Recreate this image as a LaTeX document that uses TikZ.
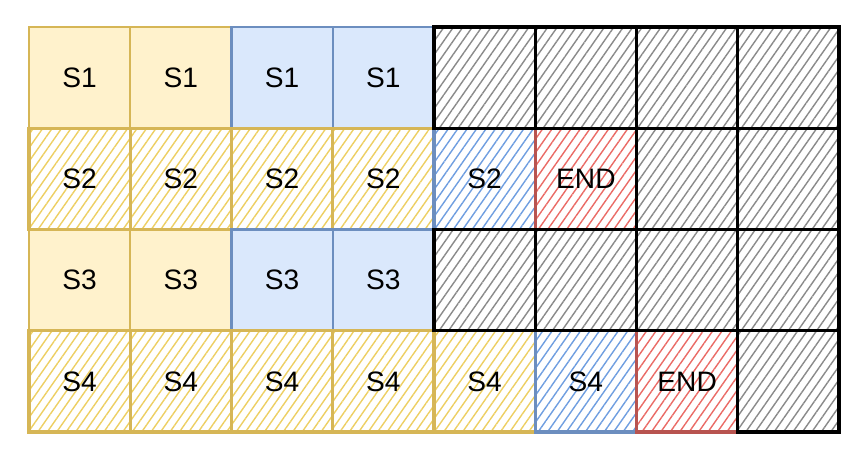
\documentclass[tikz,border=0pt]{standalone}
\usepackage{fontspec}
\setmainfont{Liberation Sans}
\usepackage{xcolor}
\usepackage{tikz}
\usetikzlibrary{positioning, patterns.meta}
\definecolor{ylwfill}{HTML}{FFF2CC}
\definecolor{ylwdraw}{HTML}{D6B656}
\definecolor{ylwhatch}{HTML}{EDCF63}
\definecolor{blufill}{HTML}{DAE8FC}
\definecolor{bludraw}{HTML}{6C8EBF}
\definecolor{bluhatch}{HTML}{6F9EE0}
\definecolor{redhatch}{HTML}{EA6B66}
\definecolor{reddraw}{HTML}{B85450}
\definecolor{blkhatch}{HTML}{8A8A8A}

\begin{document}
\begin{tikzpicture}[
  node distance=0cm and 0cm,
  cellbox/.style={rectangle, minimum width=1.0125cm, minimum height=1.0125cm,
                  inner sep=0pt, outer sep=0pt, font=\fontsize{8}{10}\selectfont},
  hatch/.style={pattern={Lines[angle=55,distance=2.2pt,line width=0.4pt]},
                pattern color=#1},
  yel/.style={cellbox, fill=ylwfill, draw=ylwdraw, line width=0.6pt},
  blu/.style={cellbox, fill=blufill, draw=bludraw, line width=0.6pt},
  yelh/.style={cellbox, hatch=ylwhatch, draw=ylwdraw, line width=0.9pt},
  bluh/.style={cellbox, hatch=bluhatch, draw=bludraw, line width=0.9pt},
  redh/.style={cellbox, hatch=redhatch, draw=reddraw, line width=0.9pt},
  blk/.style={cellbox, hatch=blkhatch, draw=black, line width=0.95pt},
]
  \useasboundingbox (0,0) rectangle (8.66,4.59);

  % row 1
  \node[yel] (a1) at (0.7963,3.8137) {S1};
  \node[yel, right=of a1] (a2) {S1};
  \node[blu, right=of a2] (a3) {S1};
  \node[blu, right=of a3] (a4) {S1};

  % row 2
  \node[yelh, below=of a1] (b1) {S2};
  \node[yelh, right=of b1] (b2) {S2};
  \node[yelh, right=of b2] (b3) {S2};
  \node[yelh, right=of b3] (b4) {S2};
  \node[bluh, right=of b4] (b5) {S2};
  \node[redh, right=of b5] (b6) {END};

  % row 3
  \node[yel, below=of b1] (c1) {S3};
  \node[yel, right=of c1] (c2) {S3};
  \node[blu, right=of c2] (c3) {S3};
  \node[blu, right=of c3] (c4) {S3};

  % row 4
  \node[yelh, below=of c1] (d1) {S4};
  \node[yelh, right=of d1] (d2) {S4};
  \node[yelh, right=of d2] (d3) {S4};
  \node[yelh, right=of d3] (d4) {S4};
  \node[yelh, right=of d4] (d5) {S4};
  \node[bluh, right=of d5] (d6) {S4};
  \node[redh, right=of d6] (d7) {END};

  % empty cells
  \node[blk, right=of a4] (a5) {};
  \node[blk, right=of a5] (a6) {};
  \node[blk, right=of a6] (a7) {};
  \node[blk, right=of a7] (a8) {};
  \node[blk, right=of b6] (b7) {};
  \node[blk, right=of b7] (b8) {};
  \node[blk, right=of c4] (c5) {};
  \node[blk, right=of c5] (c6) {};
  \node[blk, right=of c6] (c7) {};
  \node[blk, right=of c7] (c8) {};
  \node[blk, right=of d7] (d8) {};
\end{tikzpicture}
\end{document}
